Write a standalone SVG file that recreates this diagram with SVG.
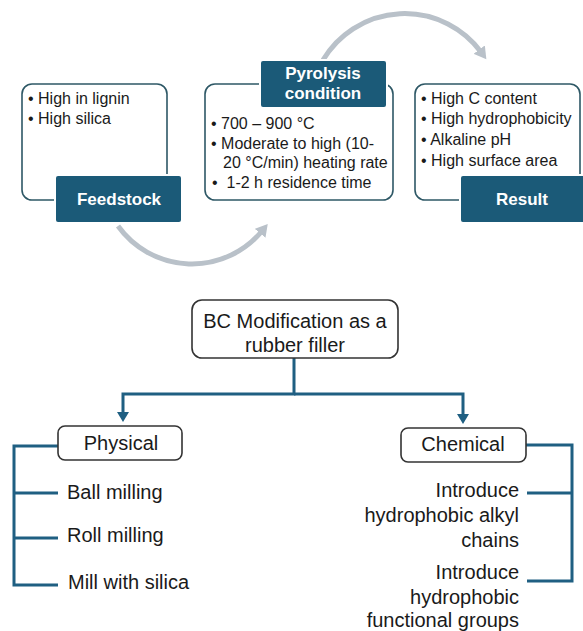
<svg xmlns="http://www.w3.org/2000/svg" width="583" height="631" viewBox="0 0 583 631">
<style>
.txt{font-family:"Liberation Sans",Arial,sans-serif;fill:#1a1a1a;}
.t16{font-size:16px;}
.t20{font-size:20px;}
.hdr{font-family:"Liberation Sans",Arial,sans-serif;font-size:17px;font-weight:bold;fill:#ffffff;text-anchor:middle;}
.outline{fill:#ffffff;stroke:#2e5866;stroke-width:1.6;}
.dark{fill:#1b5a78;stroke:#ffffff;stroke-width:2;}
.box{fill:#ffffff;stroke:#333333;stroke-width:1.6;}
.conn{fill:none;stroke:#1f5f82;stroke-width:3;}
.arc{fill:none;stroke:#b9c1c9;stroke-width:5;}
</style>
<defs>
<marker id="grayHead" markerUnits="userSpaceOnUse" markerWidth="14" markerHeight="14" refX="3" refY="7" orient="auto">
<path d="M0,0 L12,7 L0,14 Z" fill="#b9c1c9"/>
</marker>
<marker id="blueHead" markerUnits="userSpaceOnUse" markerWidth="12" markerHeight="12" refX="2" refY="6" orient="auto">
<path d="M0,0 L10,6 L0,12 Z" fill="#1f5f82"/>
</marker>
</defs>

<g id="connectors">
<path class="arc" d="M118,226 A91,91 0 0 0 262,231" marker-end="url(#grayHead)"/>
<path class="arc" d="M323,60 A95,95 0 0 1 481,52" marker-end="url(#grayHead)"/>
<path class="conn" d="M294,358 L294,394 L123,394 L123,414" marker-end="url(#blueHead)"/>
<path class="conn" d="M294,394 L463,394 L463,416" marker-end="url(#blueHead)"/>
<path class="conn" d="M58,446 L14,446 L14,585 L58,585 M14,493 L58,493 M14,538 L58,538"/>
<path class="conn" d="M526,445 L572,445 L572,581 L527,581 M527,493 L572,493"/>
</g>

<g id="feedstock">
<rect class="outline" x="22" y="84" width="145" height="116" rx="10"/>
<text class="txt t16" x="28" y="104">• High in lignin</text>
<text class="txt t16" x="28" y="124">• High silica</text>
<rect class="dark" x="55" y="175" width="127" height="48" rx="3"/>
<text class="hdr" x="119" y="205">Feedstock</text>
</g>

<g id="pyrolysis">
<rect class="outline" x="205" y="84" width="188" height="116" rx="10"/>
<rect class="dark" x="260" y="60" width="127" height="48" rx="3"/>
<text class="hdr" x="323" y="79">Pyrolysis</text>
<text class="hdr" x="323" y="99">condition</text>
<text class="txt t16" x="211" y="129">• 700 – 900 °C</text>
<text class="txt t16" x="211" y="149">• Moderate to high (10-</text>
<text class="txt t16" x="223" y="168">20 °C/min) heating rate</text>
<text class="txt t16" x="212" y="188">•&#160; 1-2 h residence time</text>
</g>

<g id="result">
<rect class="outline" x="415" y="84" width="165" height="116" rx="10"/>
<text class="txt t16" x="421" y="104">• High C content</text>
<text class="txt t16" x="421" y="124">• High hydrophobicity</text>
<text class="txt t16" x="421" y="145">• Alkaline pH</text>
<text class="txt t16" x="421" y="166">• High surface area</text>
<rect class="dark" x="460" y="175" width="126" height="48" rx="3"/>
<text class="hdr" x="522" y="205">Result</text>
</g>

<g id="bc-modification">
<rect class="box" x="192" y="300" width="206" height="58" rx="10"/>
<text class="txt t20" x="295" y="328" text-anchor="middle">BC Modification as a</text>
<text class="txt t20" x="295" y="352" text-anchor="middle">rubber filler</text>
</g>

<g id="physical">
<rect class="box" x="58" y="426" width="124" height="34" rx="7"/>
<text class="txt t20" x="121" y="450" text-anchor="middle">Physical</text>
</g>

<g id="chemical">
<rect class="box" x="401" y="428" width="125" height="34" rx="7"/>
<text class="txt t20" x="463" y="451" text-anchor="middle">Chemical</text>
</g>

<g id="physical-items">
<text class="txt t20" x="67" y="499">Ball milling</text>
<text class="txt t20" x="67" y="542">Roll milling</text>
<text class="txt t20" x="68" y="589">Mill with silica</text>
</g>

<g id="chemical-items">
<text class="txt t20" x="519" y="497" text-anchor="end">Introduce</text>
<text class="txt t20" x="519" y="522" text-anchor="end">hydrophobic alkyl</text>
<text class="txt t20" x="519" y="547" text-anchor="end">chains</text>
<text class="txt t20" x="519" y="579" text-anchor="end">Introduce</text>
<text class="txt t20" x="519" y="604" text-anchor="end">hydrophobic</text>
<text class="txt t20" x="519" y="627" text-anchor="end">functional groups</text>
</g>
</svg>
